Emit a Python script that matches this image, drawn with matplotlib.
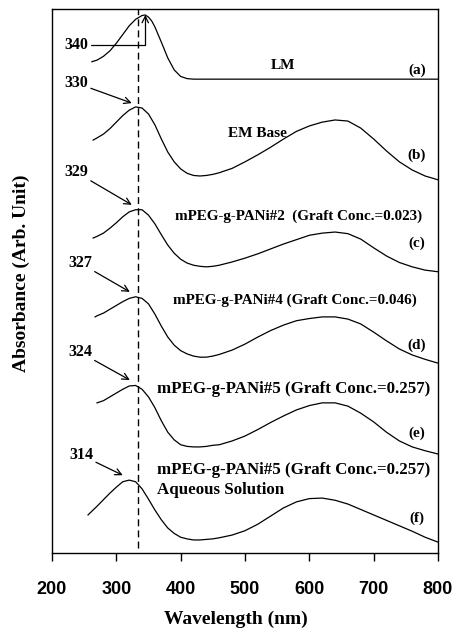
#!/usr/bin/env python3
"""UV-vis spectra of PANi forms and mPEG-g-PANi copolymers (stacked, offset)."""

import matplotlib
matplotlib.use("Agg")
import matplotlib.pyplot as plt

SERIF = "Liberation Serif"
SANS = "Liberation Sans"

# common wavelength grid: 10 nm through the UV band, 20 nm through the visible band
grid_uv = [280, 290, 300, 310, 320, 330, 340, 350, 360, 370, 380, 390, 400, 410, 420,
           430, 440, 450]
grid_vis = [460, 480, 500, 520, 540, 560, 580, 600, 620, 640, 660, 680, 700, 720, 740,
            760, 780, 800]

# (a) LM
wl_a = [262, 270, 280, 290, 300, 310, 320, 330, 340, 345, 350, 355, 360, 370, 380, 390,
        400, 410, 420, 800]
abs_a = [9.03, 9.06, 9.13, 9.23, 9.37, 9.53, 9.69, 9.81, 9.88, 9.89, 9.85, 9.78, 9.67,
         9.39, 9.10, 8.88, 8.76, 8.72, 8.71, 8.71]

# (b) EM base
wl_b = [264, 270] + grid_uv + grid_vis
abs_b = [7.59, 7.63,
         7.70, 7.80, 7.92, 8.04, 8.14, 8.20, 8.18, 8.07, 7.87, 7.61, 7.37, 7.19, 7.06, 6.98,
         6.94, 6.93, 6.94, 6.96,
         6.99, 7.07, 7.19, 7.32, 7.46, 7.61, 7.75, 7.85, 7.92, 7.96, 7.94, 7.81, 7.61, 7.39,
         7.19, 7.04, 6.93, 6.86]

# (c) mPEG-g-PANi#2
wl_c = [264, 270] + grid_uv + grid_vis
abs_c = [5.79, 5.82,
         5.88, 5.97, 6.07, 6.18, 6.27, 6.31, 6.31, 6.21, 6.05, 5.85, 5.66, 5.51, 5.40, 5.33,
         5.29, 5.27, 5.26, 5.27,
         5.29, 5.35, 5.42, 5.50, 5.59, 5.68, 5.76, 5.84, 5.88, 5.90, 5.87, 5.77, 5.61, 5.46,
         5.34, 5.26, 5.20, 5.17]

# (d) mPEG-g-PANi#4
wl_d = [267, 270] + grid_uv + grid_vis
abs_d = [4.34, 4.36,
         4.41, 4.48, 4.55, 4.62, 4.68, 4.71, 4.68, 4.58, 4.39, 4.17, 3.97, 3.82, 3.72, 3.66,
         3.62, 3.60, 3.60, 3.62,
         3.65, 3.73, 3.84, 3.97, 4.09, 4.19, 4.27, 4.31, 4.34, 4.34, 4.30, 4.21, 4.06, 3.90,
         3.75, 3.64, 3.56, 3.49]

# (e) mPEG-g-PANi#5
wl_e = [270] + grid_uv + grid_vis
abs_e = [2.76,
         2.80, 2.87, 2.94, 3.01, 3.07, 3.08, 3.01, 2.87, 2.67, 2.43, 2.22, 2.08, 1.99, 1.96,
         1.95, 1.95, 1.96, 1.98,
         1.99, 2.06, 2.15, 2.27, 2.40, 2.52, 2.63, 2.71, 2.76, 2.76, 2.70, 2.57, 2.41, 2.22,
         2.06, 1.95, 1.88, 1.82]

# (f) mPEG-g-PANi#5, aqueous solution
wl_f = [256, 270] + grid_uv + grid_vis
abs_f = [0.70, 0.86,
         0.98, 1.10, 1.21, 1.31, 1.34, 1.31, 1.18, 0.99, 0.79, 0.61, 0.46, 0.36, 0.29, 0.26,
         0.24, 0.24, 0.25, 0.26,
         0.28, 0.33, 0.41, 0.53, 0.68, 0.83, 0.94, 1.00, 1.01, 0.97, 0.90, 0.80, 0.70, 0.60,
         0.50, 0.40, 0.29, 0.20]

peak_labels = ["340", "330", "329", "327", "324", "314"]
panel_tags = ["(a)", "(b)", "(c)", "(d)", "(e)", "(f)"]
REF_WL = 333  # dashed guide


def main():
    fig = plt.figure(figsize=(4.58, 6.28), dpi=100)
    ax = fig.add_axes([0.1135, 0.1194, 0.8428, 0.8663])

    for wl, a in [(wl_a, abs_a), (wl_b, abs_b), (wl_c, abs_c),
                  (wl_d, abs_d), (wl_e, abs_e), (wl_f, abs_f)]:
        ax.plot(wl, a, color="black", lw=0.9, solid_joinstyle="round")

    ax.axvline(REF_WL, ymin=0.01, ymax=1, color="black", lw=1.0, ls=(0, (5, 3)))

    ax.set_xlim(200, 800)
    ax.set_ylim(0, 10)
    ax.set_yticks([])
    ax.set_xticks([200, 300, 400, 500, 600, 700, 800])
    ax.tick_params(axis="x", direction="out", length=6, width=1, pad=14, labelsize=13)
    for t in ax.get_xticklabels():
        t.set_fontfamily(SANS)
        t.set_fontweight("bold")
    for s in ax.spines.values():
        s.set_linewidth(1.0)

    # peak-position arrows: (text pos, arrow tip)
    lab_kw = dict(fontsize=11.5, fontweight="bold", family=SERIF, ha="right", va="center")
    ax.annotate(peak_labels[0], xy=(345, 9.89), xytext=(256, 9.34),
                arrowprops=dict(arrowstyle="->", lw=0.9, shrinkA=0, shrinkB=0,
                                connectionstyle="angle,angleA=0,angleB=90,rad=0"), **lab_kw)
    tips = [(324, 8.27), (324, 6.40), (321, 4.80), (321, 3.18), (310, 1.43)]
    texts = [(256, 8.64), (256, 7.00), (262, 5.33), (262, 3.69), (264, 1.80)]
    for lab, tip, tp in zip(peak_labels[1:], tips, texts):
        ax.annotate(lab, xy=tip, xytext=tp,
                    arrowprops=dict(arrowstyle="->", lw=0.9, shrinkA=0, shrinkB=0), **lab_kw)

    # sample names
    nm_kw = dict(fontweight="bold", family=SERIF, va="center")
    ax.text(559, 8.97, "LM", fontsize=11, ha="center", **nm_kw)
    ax.text(474, 7.72, "EM Base", fontsize=11, ha="left", **nm_kw)
    ax.text(391, 6.19, "mPEG-g-PANi#2  (Graft Conc.=0.023)", fontsize=10.9, ha="left", **nm_kw)
    ax.text(388, 4.65, "mPEG-g-PANi#4 (Graft Conc.=0.046)", fontsize=10.9, ha="left", **nm_kw)
    ax.text(363, 3.01, "mPEG-g-PANi#5 (Graft Conc.=0.257)", fontsize=12.2, ha="left", **nm_kw)
    ax.text(363, 1.53, "mPEG-g-PANi#5 (Graft Conc.=0.257)", fontsize=12.2, ha="left", **nm_kw)
    ax.text(363, 1.16, "Aqueous Solution", fontsize=12.2, ha="left", **nm_kw)

    tag_y = [8.88, 7.32, 5.70, 3.82, 2.20, 0.64]
    for tag, y in zip(panel_tags, tag_y):
        ax.text(767, y, tag, fontsize=11, ha="center", **nm_kw)

    fig.text(21 / 458, 1 - 273 / 628, "Absorbance (Arb. Unit)", rotation=90,
             ha="center", va="center", fontsize=14, fontweight="bold", family=SERIF)
    fig.text(236 / 458, 1 - 619 / 628, "Wavelength (nm)",
             ha="center", va="center", fontsize=14, fontweight="bold", family=SERIF)

    fig.savefig("out.png", dpi=100, facecolor="white")


if __name__ == "__main__":
    main()
